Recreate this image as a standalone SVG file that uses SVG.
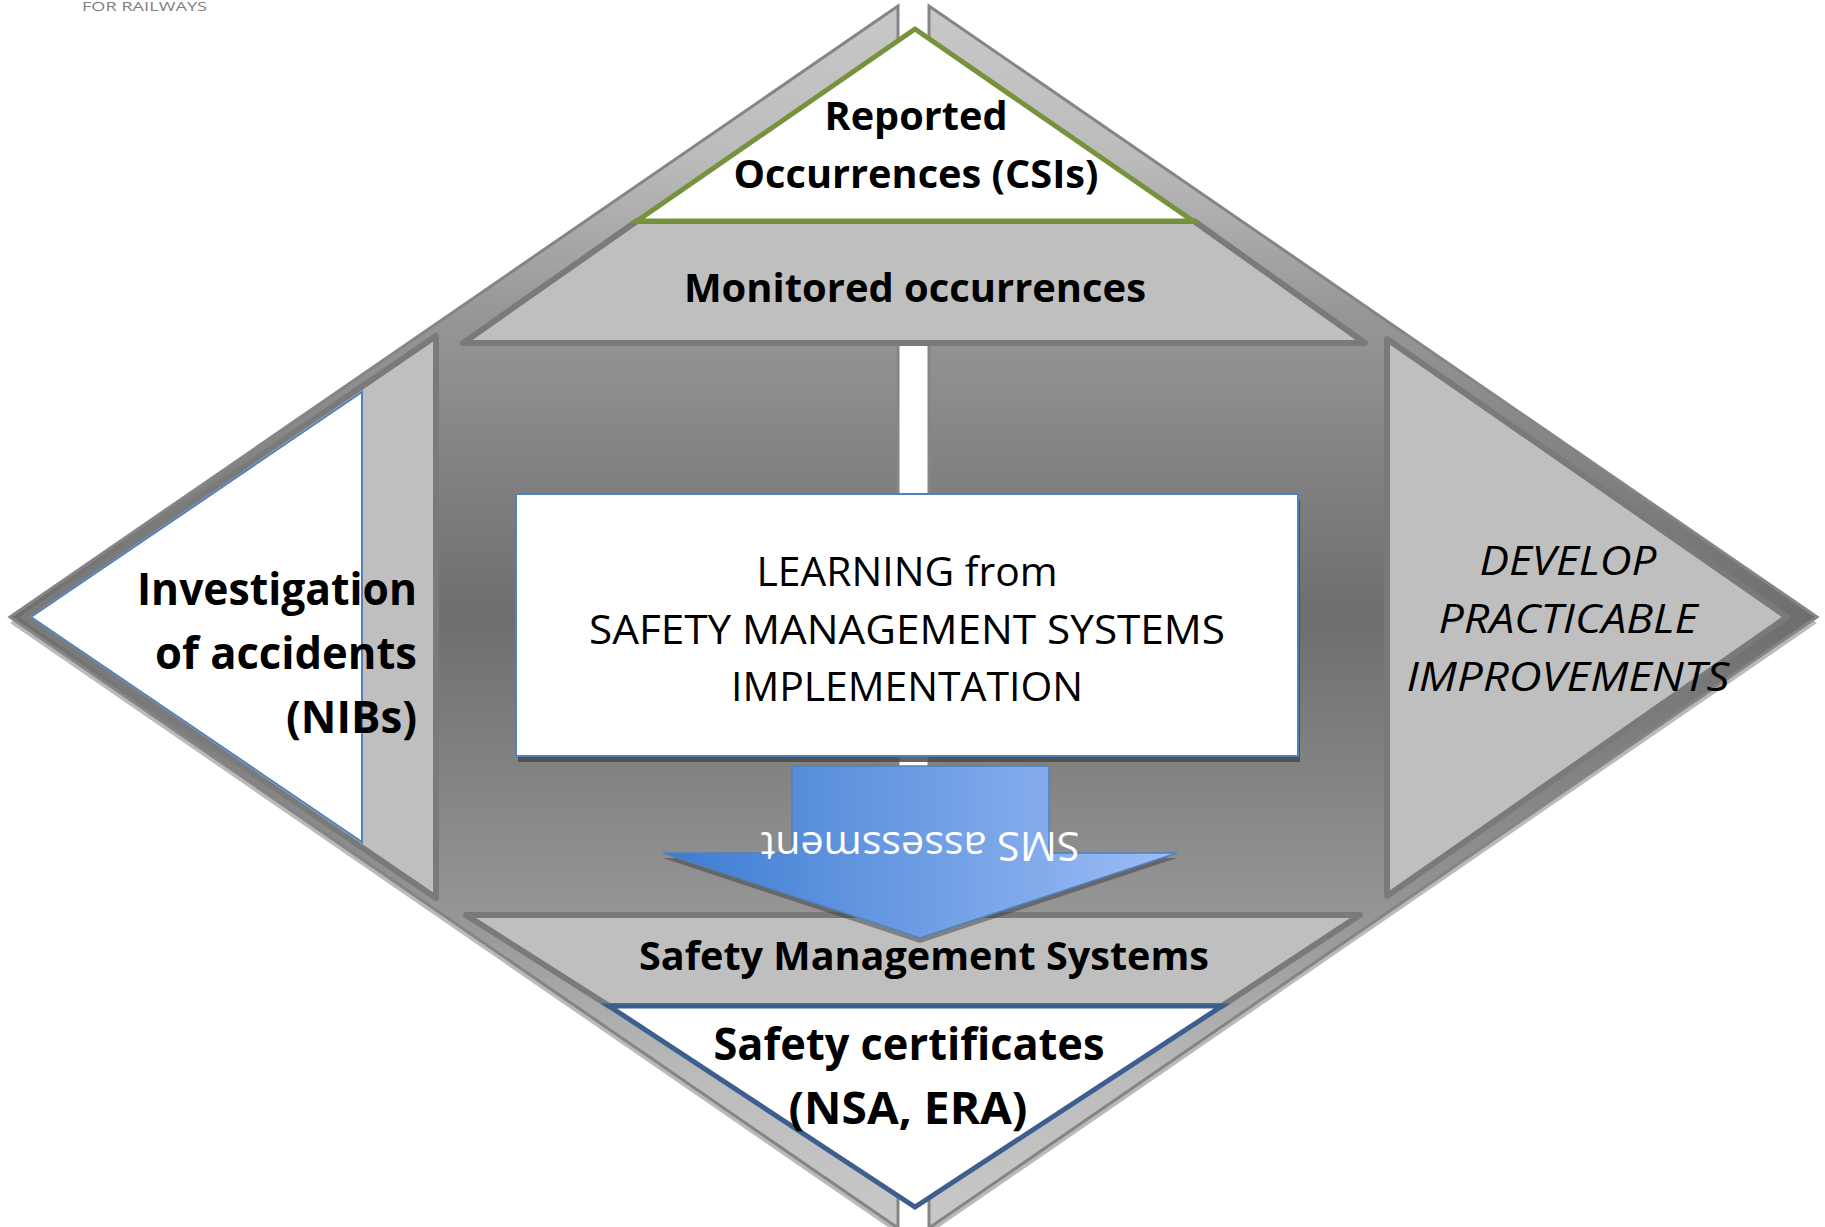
<svg xmlns="http://www.w3.org/2000/svg" width="1825" height="1227" viewBox="0 0 1825 1227">
<defs>
  <linearGradient id="dg" gradientUnits="userSpaceOnUse" x1="0" y1="6" x2="0" y2="1228">
    <stop offset="0" stop-color="#c8c8c8"/>
    <stop offset="0.12" stop-color="#bcbcbc"/>
    <stop offset="0.25" stop-color="#979797"/>
    <stop offset="0.5" stop-color="#6e6e6e"/>
    <stop offset="0.75" stop-color="#979797"/>
    <stop offset="0.88" stop-color="#bcbcbc"/>
    <stop offset="1" stop-color="#c8c8c8"/>
  </linearGradient>
  <linearGradient id="ag" gradientUnits="userSpaceOnUse" x1="663" y1="0" x2="1177" y2="0">
    <stop offset="0" stop-color="#3d7cd1"/>
    <stop offset="1" stop-color="#9dbdf6"/>
  </linearGradient>
  <style>
    .half{fill:url(#dg);stroke:#858585;stroke-width:3;stroke-linejoin:miter}
    .shadow{fill:#a3a3a3;opacity:0.75}
    .tri{fill:#bfbfbf;stroke:#7a7a7a;stroke-width:6;stroke-linejoin:round}
    .txt{font-family:"Open Sans","Liberation Sans",sans-serif;font-size:40px;fill:#000;text-anchor:middle}
    .b{font-weight:700}
    .it{font-style:italic}
  </style>
</defs>

<text x="82" y="11" style="font-family:'Open Sans','Liberation Sans',sans-serif;font-size:13px;fill:#7f7f7f" textLength="125" lengthAdjust="spacingAndGlyphs">FOR RAILWAYS</text>

<g id="diamond">
  <polygon class="shadow" points="898,12 10,623 898,1234"/>
  <polygon class="shadow" points="929,12 1817,623 929,1234"/>
  <polygon class="half" points="898,6 10,617 898,1228"/>
  <polygon class="half" points="929,6 1817,617 929,1228"/>
</g>

<g id="node-monitored">
  <polygon class="tri" points="637,221 1194,221 1365,343 463,343"/>
  <text class="txt b" x="915" y="302" textLength="462" lengthAdjust="spacingAndGlyphs">Monitored occurrences</text>
</g>

<g id="node-reported">
  <polygon points="915,29 1193,221 637,221" fill="#ffffff" stroke="#76923c" stroke-width="5" stroke-linejoin="miter"/>
  <text class="txt b" x="916" y="130" textLength="183" lengthAdjust="spacingAndGlyphs">Reported</text>
  <text class="txt b" x="916" y="188" textLength="365" lengthAdjust="spacingAndGlyphs">Occurrences (CSIs)</text>
</g>

<g id="node-investigation">
  <polygon class="tri" points="24,617 436,336 436,898"/>
  <polygon points="31,617 362,392 362,842" fill="#ffffff" stroke="#4f81bd" stroke-width="2"/>
  <g class="txt b" style="text-anchor:end;font-size:44px">
    <text x="417" y="605" textLength="280" lengthAdjust="spacingAndGlyphs">Investigation</text>
    <text x="417" y="669" textLength="262" lengthAdjust="spacingAndGlyphs">of accidents</text>
    <text x="417" y="733" textLength="131" lengthAdjust="spacingAndGlyphs">(NIBs)</text>
  </g>
</g>

<g id="node-develop">
  <polygon class="tri" points="1387,339 1787,617 1387,896"/>
  <g class="txt it">
    <text x="1568" y="575" textLength="177" lengthAdjust="spacingAndGlyphs">DEVELOP</text>
    <text x="1568" y="633" textLength="259" lengthAdjust="spacingAndGlyphs">PRACTICABLE</text>
    <text x="1568" y="691" textLength="323" lengthAdjust="spacingAndGlyphs">IMPROVEMENTS</text>
  </g>
</g>

<g id="node-sms">
  <polygon class="tri" points="466,915 1360,915 1222,1006 609,1006"/>
  <text class="txt b" x="924" y="970" textLength="570" lengthAdjust="spacingAndGlyphs">Safety Management Systems</text>
</g>

<g id="node-certificates">
  <polygon points="609,1006 1222,1006 915,1207" fill="#ffffff" stroke="#3c5f8e" stroke-width="5" stroke-linejoin="miter"/>
  <text class="txt b" x="909" y="1060" style="font-size:44px" textLength="391" lengthAdjust="spacingAndGlyphs">Safety certificates</text>
  <text class="txt b" x="908" y="1124" style="font-size:44px" textLength="239" lengthAdjust="spacingAndGlyphs">(NSA, ERA)</text>
</g>

<g id="node-learning">
  <rect x="518" y="500" width="782" height="262" fill="#4a4a4a" opacity="0.85"/>
  <rect x="516" y="494" width="782" height="262" fill="#ffffff" stroke="#4f81bd" stroke-width="2"/>
  <text class="txt" x="907" y="586" textLength="301" lengthAdjust="spacingAndGlyphs">LEARNING from</text>
  <text class="txt" x="907" y="644" textLength="636" lengthAdjust="spacingAndGlyphs">SAFETY MANAGEMENT SYSTEMS</text>
  <text class="txt" x="907" y="701" textLength="352" lengthAdjust="spacingAndGlyphs">IMPLEMENTATION</text>
</g>

<g id="connectors">
  <polygon points="792,766 1049,766 1049,853 1177,853 920,938 663,853 792,853" transform="translate(0,5)" fill="#333333" opacity="0.45"/>
  <polygon points="792,766 1049,766 1049,853 1177,853 920,938 663,853 792,853" fill="url(#ag)" stroke="#4f81bd" stroke-width="1.5" stroke-linejoin="miter"/>
  <text class="txt" x="920" y="860" transform="rotate(180 920 846)" style="fill:#ffffff" textLength="319" lengthAdjust="spacingAndGlyphs">SMS assessment</text>
</g>
</svg>
